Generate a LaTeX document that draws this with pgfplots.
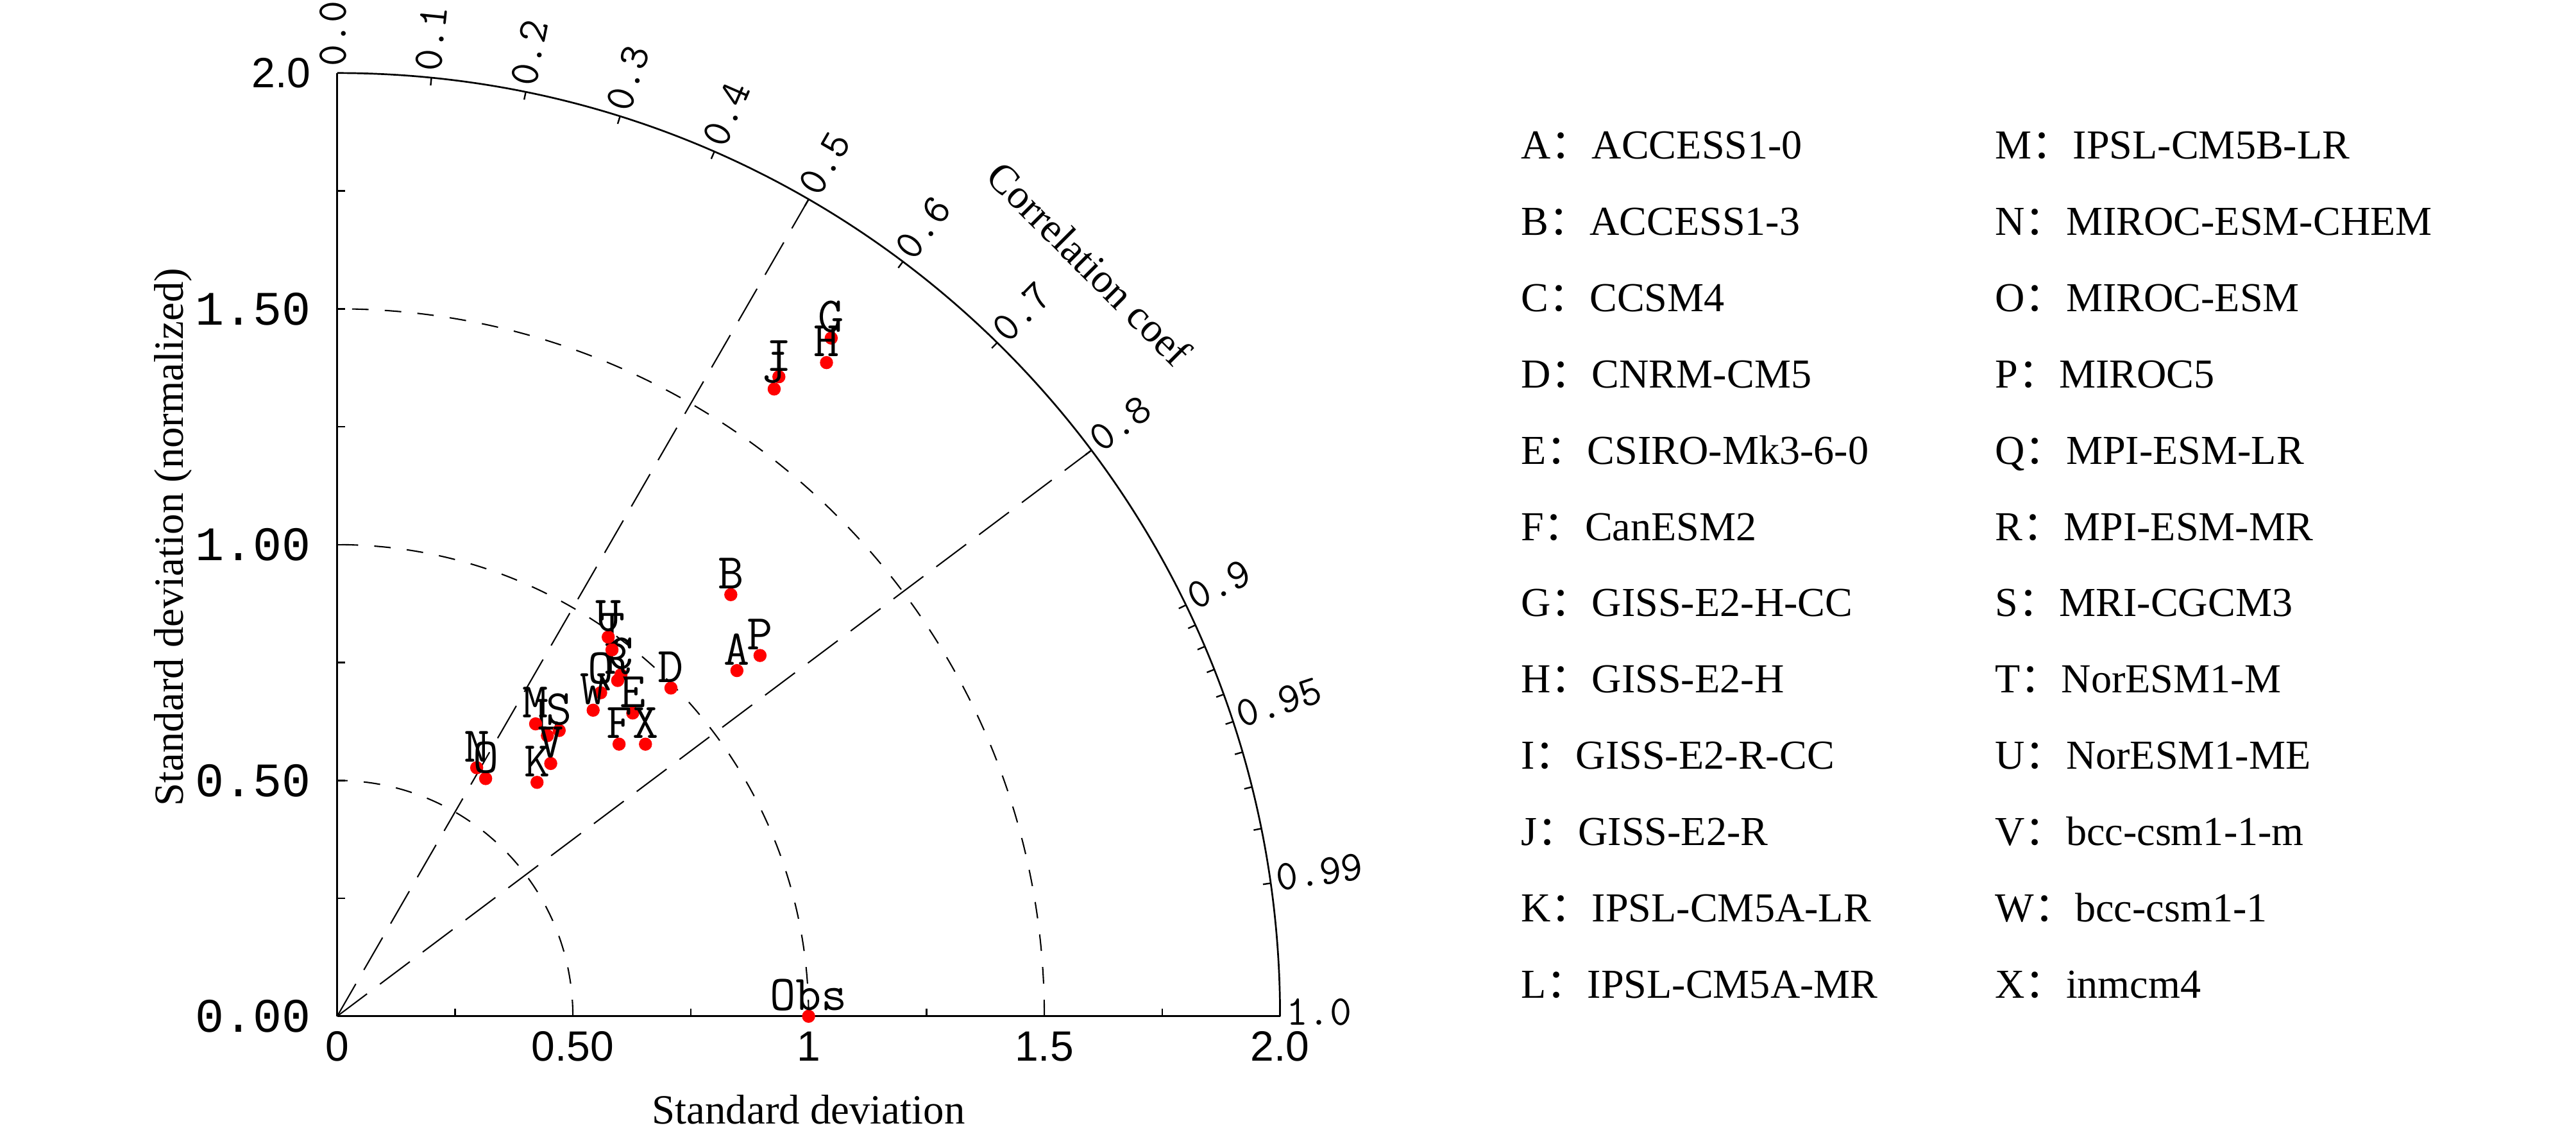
\documentclass[border=0pt]{standalone}
\usepackage{fontspec}
\setmainfont{Liberation Serif}
\newfontfamily\cjk{Noto Sans CJK SC}
\newfontfamily\sansf{Liberation Sans}
\newfontfamily\monof{Liberation Mono}
\usepackage{pgfplots}
\pgfplotsset{compat=1.18}
\usepackage{pgfplotstable}

% model positions (x = sd*R, y = sd*sqrt(1-R^2))
\pgfplotstableread{
x      y      lab
0.848  0.733  A
0.835  0.894  B
0.602  0.724  C
0.708  0.696  D
0.627  0.643  E
0.598  0.577  F
1.048  1.438  G
1.038  1.386  H
0.937  1.356  I
0.927  1.330  J
0.424  0.496  K
0.446  0.595  L
0.421  0.620  M
0.296  0.527  N
0.315  0.504  O
0.897  0.765  P
0.559  0.686  Q
0.595  0.712  R
0.471  0.606  S
0.583  0.777  T
0.575  0.804  U
0.453  0.536  V
0.543  0.649  W
0.654  0.577  X
1.000  0.000  Obs
}\models

\newcommand\leg[4]{\node[anchor=base west, inner sep=0pt, font=\fontsize{10.7}{13}\selectfont]
  at ({#1pt},{253.87pt-#2*19.81pt}) {#3{\cjk ：}#4};}

\begin{document}
\begin{tikzpicture}
\path[use as bounding box] (0,0) rectangle (669.33pt,295.17pt);

% Taylor grid, in units of normalised standard deviation
\begin{scope}[shift={(87.6pt,31.2pt)}, x=122.5pt, y=122.5pt]
  \foreach \r in {0.5,1,1.5}
    \draw[line width=0.35pt, dash pattern=on 4.3pt off 4.2pt] (\r,0) arc[start angle=0, end angle=90, radius=\r*122.5pt];
  \draw[line width=0.35pt, dash pattern=on 9.7pt off 4.2pt] (0,0) -- (60:2);
  \draw[line width=0.35pt, dash pattern=on 9.7pt off 4.2pt] (0,0) -- ({acos(0.8)}:2);
  \draw[line width=0.45pt] (2,0) arc[start angle=0, end angle=90, radius=245pt];
  \foreach \c in {0.1,0.2,0.3,0.4,0.5,0.6,0.7,0.8,0.9,0.91,0.92,0.93,0.94,0.95,0.96,0.97,0.98,0.99}
    \draw[line width=0.4pt] ({acos(\c)}:2) -- ({acos(\c)}:1.9837);
  \foreach \c in {0.0,0.1,0.2,0.3,0.4,0.5,0.6,0.7,0.8,0.9,0.95,0.99,1.0}{
    \pgfmathsetmacro\a{acos(\c)}
    \node[rotate=\a, anchor=mid west, inner sep=0pt, font=\ttfamily\fontsize{11}{13}\selectfont] at (\a:2.012) {\c};
  }
  \node[rotate=-45, font=\fontsize{10.7}{13}\selectfont] at (45:2.257) {Correlation coef};
\end{scope}

\begin{axis}[
    at={(87.6pt,31.2pt)}, anchor=south west,
    scale only axis, width=245pt, height=245pt,
    xmin=0, xmax=2, ymin=0, ymax=2,
    axis x line*=bottom, axis y line*=left,
    axis line style={line width=0.45pt},
    xtick={0,0.25,0.5,0.75,1,1.25,1.5,1.75,2},
    ytick={0,0.25,0.5,0.75,1,1.25,1.5,1.75,2},
    xticklabels={0,,0.50,,1,,1.5,,2.0},
    yticklabels={0.00,,0.50,,1.00,,1.50,,{\sansf\fontsize{11}{13}\selectfont 2.0}},
    tick align=inside, major tick length=2pt,
    tick style={line width=0.4pt, black},
    xticklabel style={font=\sansf\fontsize{11}{13}\selectfont, anchor=center, inner sep=0pt, yshift=-7.9pt},
    yticklabel style={font=\monof\fontsize{12.5}{14}\selectfont, anchor=east, inner sep=0pt, xshift=-6.7pt},
    xlabel={Standard deviation},
    ylabel={Standard deviation (normalized)},
    label style={font=\fontsize{10.8}{13}\selectfont},
    xlabel style={at={(axis description cs:0.5,-0.0992)}, anchor=center},
    ylabel style={at={(axis description cs:-0.174,0.508)}, anchor=center, rotate=0},
    clip=false,
]
\addplot[only marks, mark=*, mark size=1.5pt, color=red,
    point meta=explicit symbolic, nodes near coords,
    nodes near coords align={center},
    nodes near coords style={font=\ttfamily\fontsize{13}{15}\selectfont, text=black, inner sep=0pt, yshift=5.5pt}]
    table[x=x, y=y, meta=lab] {\models};
\end{axis}

\leg{395}{0}{A}{ACCESS1-0}
\leg{395}{1}{B}{ACCESS1-3}
\leg{395}{2}{C}{CCSM4}
\leg{395}{3}{D}{CNRM-CM5}
\leg{395}{4}{E}{CSIRO-Mk3-6-0}
\leg{395}{5}{F}{CanESM2}
\leg{395}{6}{G}{GISS-E2-H-CC}
\leg{395}{7}{H}{GISS-E2-H}
\leg{395}{8}{I}{GISS-E2-R-CC}
\leg{395}{9}{J}{GISS-E2-R}
\leg{395}{10}{K}{IPSL-CM5A-LR}
\leg{395}{11}{L}{IPSL-CM5A-MR}
\leg{518.2}{0}{M}{IPSL-CM5B-LR}
\leg{518.2}{1}{N}{MIROC-ESM-CHEM}
\leg{518.2}{2}{O}{MIROC-ESM}
\leg{518.2}{3}{P}{MIROC5}
\leg{518.2}{4}{Q}{MPI-ESM-LR}
\leg{518.2}{5}{R}{MPI-ESM-MR}
\leg{518.2}{6}{S}{MRI-CGCM3}
\leg{518.2}{7}{T}{NorESM1-M}
\leg{518.2}{8}{U}{NorESM1-ME}
\leg{518.2}{9}{V}{bcc-csm1-1-m}
\leg{518.2}{10}{W}{bcc-csm1-1}
\leg{518.2}{11}{X}{inmcm4}
\end{tikzpicture}
\end{document}
